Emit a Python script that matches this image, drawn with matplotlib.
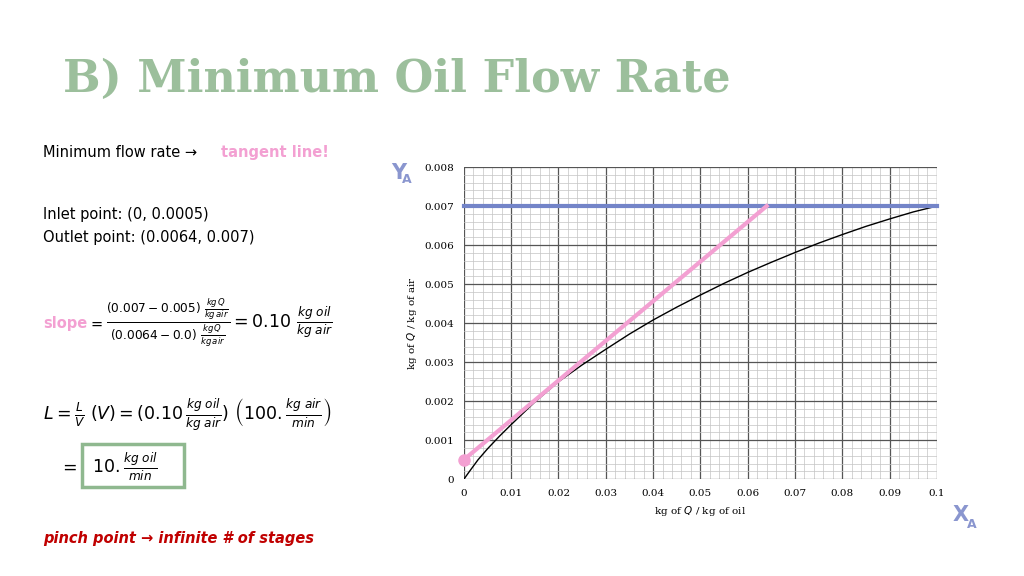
import matplotlib
matplotlib.use("Agg")
import matplotlib.pyplot as plt
from matplotlib.ticker import MultipleLocator
from matplotlib.patches import Rectangle

curve_x = [0, 0.001, 0.003, 0.005, 0.0075, 0.01, 0.015, 0.02, 0.025, 0.03, 0.035, 0.04, 0.045,
           0.05, 0.055, 0.06, 0.065, 0.07, 0.075, 0.08, 0.085, 0.09, 0.095, 0.1]
curve_y = [0, 0.00017, 0.00050, 0.00078, 0.00110, 0.00140, 0.00198, 0.00250, 0.00293, 0.00333,
           0.00372, 0.00408, 0.00441, 0.00472, 0.00502, 0.00530, 0.00556, 0.00581, 0.00605,
           0.00627, 0.00648, 0.00667, 0.00685, 0.00700]
tangent_x = [0, 0.064]
tangent_y = [0.0005, 0.007]
op_x = [0, 0.1]
op_y = [0.007, 0.007]
xticks = [0, 0.01, 0.02, 0.03, 0.04, 0.05, 0.06, 0.07, 0.08, 0.09, 0.1]
xticklabels = ["0", "0.01", "0.02", "0.03", "0.04", "0.05", "0.06", "0.07", "0.08", "0.09", "0.1"]
yticks = [0, 0.001, 0.002, 0.003, 0.004, 0.005, 0.006, 0.007, 0.008]
yticklabels = ["0", "0.001", "0.002", "0.003", "0.004", "0.005", "0.006", "0.007", "0.008"]

fig = plt.figure(figsize=(10.24, 5.76), dpi=100)
ax = fig.add_axes([0.453, 0.168, 0.462, 0.542])
ax.set_xlim(0, 0.1)
ax.set_ylim(0, 0.008)
ax.xaxis.set_minor_locator(MultipleLocator(0.002))
ax.yaxis.set_minor_locator(MultipleLocator(0.0002))
ax.grid(which="major", color="#555555", lw=0.9)
ax.grid(which="minor", color="#c4c4c4", lw=0.5)
ax.set_axisbelow(True)
ax.set_xticks(xticks)
ax.set_xticklabels(xticklabels, fontfamily="DejaVu Serif", fontsize=7.5)
ax.set_yticks(yticks)
ax.set_yticklabels(yticklabels, fontfamily="DejaVu Serif", fontsize=7.5)
ax.tick_params(which="both", length=0, pad=7)
for s in ax.spines.values():
    s.set_visible(False)
ax.set_xlabel("kg of $Q$ / kg of oil", fontfamily="DejaVu Serif", fontsize=7.5)
ax.set_ylabel("kg of $Q$ / kg of air", fontfamily="DejaVu Serif", fontsize=7.5)

ax.plot(curve_x, curve_y, color="black", lw=1)
ax.plot(op_x, op_y, color="#7384c8", lw=3, clip_on=False)
ax.plot(tangent_x, tangent_y, color="#f3a0d2", lw=3)
ax.plot([tangent_x[0]], [tangent_y[0]], "o", color="#f3a0d2", ms=8, clip_on=False)

fig.text(0.062, 0.84, "B) Minimum Oil Flow Rate", fontfamily="DejaVu Serif",
         fontweight="bold", fontsize=32, color="#9cbf9c")
fig.text(0.382, 0.69, "Y", color="#8a96cf", fontsize=15, fontweight="bold")
fig.text(0.393, 0.683, "A", color="#8a96cf", fontsize=9, fontweight="bold")
fig.text(0.930, 0.095, "X", color="#8a96cf", fontsize=15, fontweight="bold")
fig.text(0.944, 0.083, "A", color="#8a96cf", fontsize=9, fontweight="bold")

fs = 10.5
fig.text(0.042, 0.728, "Minimum flow rate \u2192", fontsize=fs)
fig.text(0.216, 0.728, "tangent line!", fontsize=fs, color="#f3a0d2", fontweight="bold")
fig.text(0.042, 0.62, "Inlet point: (0, 0.0005)", fontsize=fs)
fig.text(0.042, 0.58, "Outlet point: (0.0064, 0.007)", fontsize=fs)
fig.text(0.042, 0.43, "slope", fontsize=fs, color="#f3a0d2", fontweight="bold")
fig.text(0.088, 0.43, "=", fontsize=fs)
fig.text(0.104, 0.44,
         r"$\frac{(0.007-0.005)\ \frac{kg\,Q}{kg\,air}}{(0.0064-0.0)\ \frac{kg\,Q}{kg\,air}} = 0.10\ \frac{kg\ oil}{kg\ air}$",
         fontsize=12.5, va="center")
fig.text(0.042, 0.28,
         r"$L=\frac{L}{V}\ (V)=(0.10\,\frac{kg\ oil}{kg\ air})\ \left(100.\frac{kg\ air}{min}\right)$",
         fontsize=12.5, va="center")
fig.text(0.058, 0.19, r"$=$", fontsize=12.5, va="center")
fig.text(0.09, 0.19, r"$10.\frac{kg\ oil}{min}$", fontsize=12.5, va="center")
fig.patches.append(Rectangle((0.08, 0.155), 0.1, 0.075, transform=fig.transFigure,
                             fill=False, ec="#8fb88f", lw=2.5))
fig.text(0.042, 0.057, "pinch point \u2192 infinite # of stages", fontsize=fs,
         color="#c00000", fontweight="bold", fontstyle="italic")
fig.savefig("out.png", dpi=100)
